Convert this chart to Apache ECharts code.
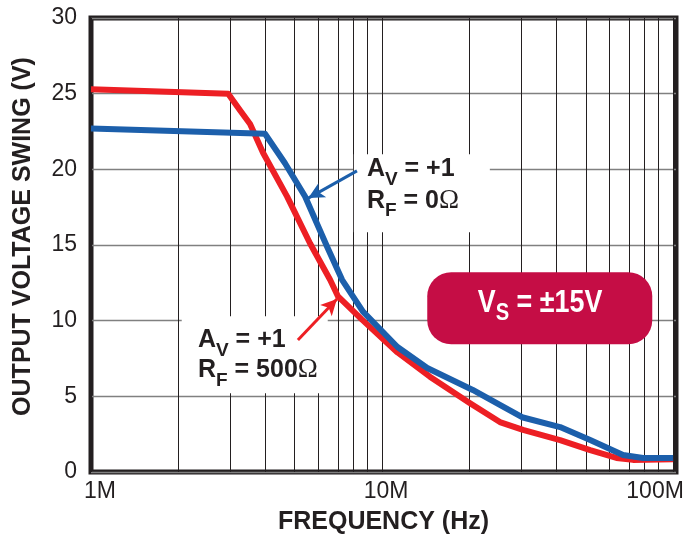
<!DOCTYPE html>
<html>
<head>
<meta charset="utf-8">
<script src="https://cdn.jsdelivr.net/npm/echarts@6/dist/echarts.min.js"></script>
<style>html,body{margin:0;padding:0;background:#fff;}#c{width:688px;height:541px;}</style>
</head>
<body>
<div id="c"></div>
<script>
// ---- data (frequency in MHz, voltage in V) ----
const freqRed = [1, 2.96, 3.25, 3.52, 3.9, 4.72, 5.66, 6.63, 7.06, 8.5, 11.3, 14.6, 20, 25.4, 30.5, 40.9, 51.9, 63.9, 72.8, 100];
const voltRed = [25.3, 25.0, 23.9, 23.0, 21.1, 18.2, 15.1, 12.7, 11.6, 10.1, 7.9, 6.3, 4.56, 3.3, 2.78, 2.11, 1.45, 0.93, 0.8, 0.85];
const freqBlue = [1, 3.96, 4.64, 5.44, 6.47, 7.29, 8.6, 11.3, 14.3, 20.5, 25.4, 30.5, 40.9, 51.9, 67.3, 78.9, 100];
const voltBlue = [22.7, 22.35, 20.4, 18.2, 14.9, 12.7, 10.6, 8.26, 6.87, 5.42, 4.43, 3.6, 2.97, 2.11, 1.12, 0.93, 0.93];
const xTickLabels = ['1M', '10M', '100M'];
const minorFreqMHz = [2, 3, 4, 5, 6, 7, 8, 9, 20, 30, 40, 50, 60, 70, 80, 90];
// annotation anchors in data space [MHz, V]
const blueArrow = [[8.2, 19.9], [5.58, 18.1]];
const redArrow = [[5.14, 8.72], [7.0, 11.43]];

const lf = f => Math.log10(f * 1e6);
const toPairs = (fs, vs) => fs.map((f, i) => [lf(f), vs[i]]);
const ink = '#231f20';
const sans = '"Liberation Sans", Arial, sans-serif';

const option = {
  animation: false,
  grid: { left: 91, right: 12, top: 18, bottom: 69, show: true, borderColor: ink, borderWidth: 5, backgroundColor: 'transparent' },
  xAxis: {
    type: 'value', min: 6, max: 8.01, interval: 1,
    axisLine: { show: false }, axisTick: { show: false },
    splitLine: { show: true, lineStyle: { color: ink, width: 1 } },
    axisLabel: {
      margin: 8, color: ink, fontSize: 23, fontFamily: sans,
      formatter: v => {
        const i = Math.round(v) - 6;
        if (i < 0 || i > 2) return '';
        return '{t' + i + '|' + xTickLabels[i] + '}';
      },
      rich: {
        t0: { fontSize: 23, fontFamily: sans, color: ink, padding: [0, 0, 0, 18] },
        t1: { fontSize: 23, fontFamily: sans, color: ink, padding: [0, 0, 0, 8] },
        t2: { fontSize: 23, fontFamily: sans, color: ink, padding: [0, 36, 0, 0] }
      }
    },
    name: 'FREQUENCY (Hz)', nameLocation: 'middle', nameGap: 38,
    nameTextStyle: { fontSize: 25, fontWeight: 'bold', color: ink, fontFamily: sans }
  },
  yAxis: {
    type: 'value', min: 0, max: 30, interval: 5,
    axisLine: { show: false }, axisTick: { show: false },
    splitLine: { show: true, lineStyle: { color: '#808080', width: 1.3 } },
    axisLabel: { margin: 14, color: ink, fontSize: 23, fontFamily: sans },
    name: 'OUTPUT VOLTAGE SWING (V)', nameLocation: 'middle', nameGap: 55,
    nameTextStyle: { fontSize: 25, fontWeight: 'bold', color: ink, fontFamily: sans, padding: [0, 0, 0, 17] }
  },
  series: [
    {
      type: 'line', data: [], z: 0, silent: true,
      markLine: {
        z: 0, silent: true, symbol: ['none', 'none'], animation: false,
        label: { show: false },
        lineStyle: { color: ink, width: 1, type: 'solid' },
        data: minorFreqMHz.map(f => ({ xAxis: lf(f) }))
      }
    },
    {
      name: 'RF=500', type: 'line', z: 2, data: toPairs(freqRed, voltRed),
      showSymbol: false, smooth: false, lineStyle: { color: '#ed1f24', width: 6, join: 'round' }
    },
    {
      name: 'RF=0', type: 'line', z: 3, data: toPairs(freqBlue, voltBlue),
      showSymbol: false, smooth: false, lineStyle: { color: '#1c5fab', width: 6, join: 'round' }
    },
    {
      type: 'line', data: [], z: 6, silent: true,
      markLine: {
        z: 6, silent: true, symbol: ['none', 'arrow'], symbolSize: [12, 16], animation: false,
        label: { show: false },
        data: [
          [{ coord: [lf(blueArrow[0][0]), blueArrow[0][1]], lineStyle: { color: '#1c5fab', width: 3, type: 'solid' } },
           { coord: [lf(blueArrow[1][0]), blueArrow[1][1]] }],
          [{ coord: [lf(redArrow[0][0]), redArrow[0][1]], lineStyle: { color: '#ed1f24', width: 3, type: 'solid' } },
           { coord: [lf(redArrow[1][0]), redArrow[1][1]] }]
        ]
      }
    }
  ]
};

const chart = echarts.init(document.getElementById('c'), null, { renderer: 'canvas' });
chart.setOption(option);

const P = (f, v) => chart.convertToPixel({ gridIndex: 0 }, [lf(f), v]);
const mctx = document.createElement('canvas').getContext('2d');
function fontStr(s) { return (s.weight || 'normal') + ' ' + s.size + 'px ' + s.family; }
// lay out a run of text segments on a common baseline; returns graphic children
function run(segs, x, baseline, color, z, sx) {
  sx = sx || 1;
  const out = [];
  let cx = x;
  segs.forEach(s => {
    mctx.font = fontStr(s);
    const w = mctx.measureText(s.t).width * sx;
    out.push({
      type: 'text', z: z, silent: true, x: cx, y: baseline + (s.dy || 0) - 0.35 * s.size, scaleX: sx,
      style: { text: s.t, fill: color, font: fontStr(s), align: 'left', verticalAlign: 'middle' }
    });
    cx += w;
  });
  return out;
}
function runWidth(segs, sx) {
  let w = 0;
  segs.forEach(s => { mctx.font = fontStr(s); w += mctx.measureText(s.t).width; });
  return w * (sx || 1);
}
const M = t => ({ t: t, size: 25, weight: 'bold', family: sans });
const S = t => ({ t: t, size: 19, weight: 'bold', family: sans, dy: 8 });
const O = t => ({ t: t, size: 27, weight: 'normal', family: '"Liberation Serif", serif' });

// text baselines, in data space
const upL1 = P(8.87, 19.43);
const upL2 = P(8.87, 17.32);
const loL1 = P(2.33, 8.13);
const loL2 = P(2.33, 6.15);
const upTL = P(8.0, 21.0);
const loTL = P(2.05, 10.3);
const badgeTL = P(14.3, 13.2);
const badgeC = P(34.9, 10.4);

const badgeSegs = [
  { t: 'V', size: 32, weight: 'bold', family: sans },
  { t: 'S', size: 24, weight: 'bold', family: sans, dy: 7 },
  { t: ' = ±15V', size: 32, weight: 'bold', family: sans }
];
const bsx = 0.84;
const bw = runWidth(badgeSegs, bsx);

const graphics = [
  { type: 'rect', z: 1, silent: true, shape: { x: upTL[0], y: upTL[1], width: 136, height: 78 }, style: { fill: '#fff' } },
  { type: 'rect', z: 1, silent: true, shape: { x: loTL[0], y: loTL[1], width: 146, height: 77 }, style: { fill: '#fff' } },
  { type: 'rect', z: 10, silent: true, shape: { x: badgeTL[0], y: badgeTL[1], width: 225, height: 72, r: 24 }, style: { fill: '#c50d45' } }
].concat(
  run([M('A'), S('V'), M(' = +1')], upL1[0], upL1[1], ink, 12),
  run([M('R'), S('F'), M(' = 0'), O('Ω')], upL2[0], upL2[1], ink, 12),
  run([M('A'), S('V'), M(' = +1')], loL1[0], loL1[1], ink, 12),
  run([M('R'), S('F'), M(' = 500'), O('Ω')], loL2[0], loL2[1], ink, 12),
  run(badgeSegs, badgeC[0] - bw / 2, badgeC[1], '#ffffff', 12, bsx)
);

chart.setOption({ graphic: graphics });
</script>
</body>
</html>
